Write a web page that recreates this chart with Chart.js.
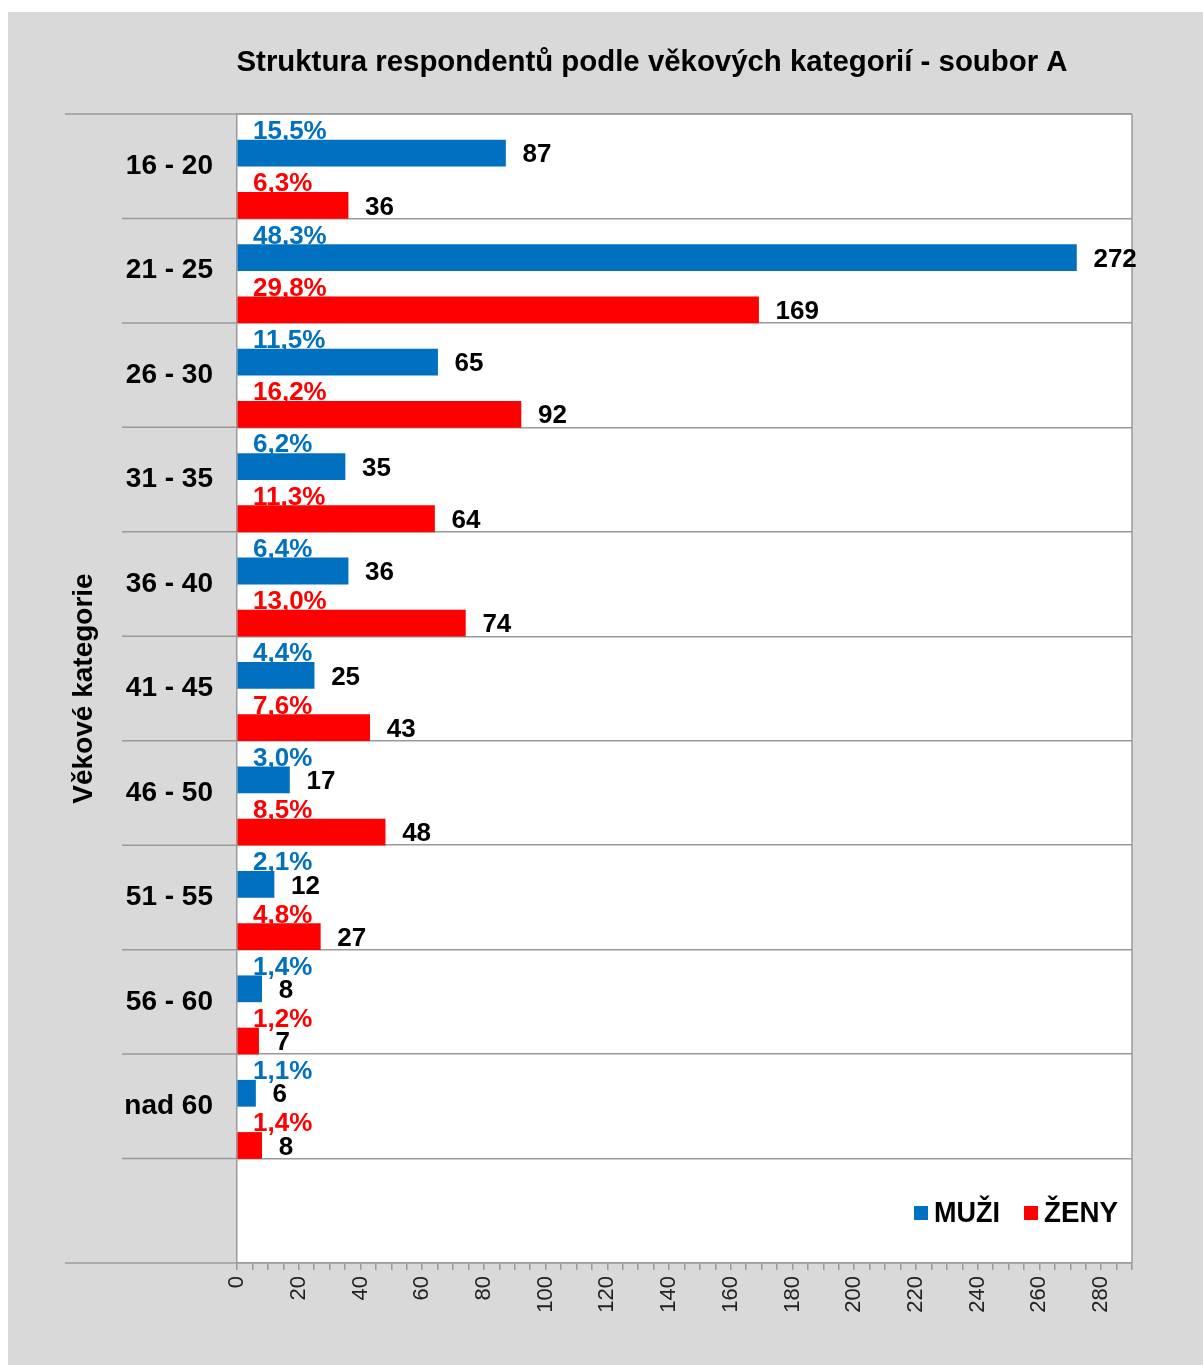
<!DOCTYPE html>
<html lang="cs">
<head>
<meta charset="utf-8">
<title>Struktura respondentů podle věkových kategorií - soubor A</title>
<script src="https://cdn.jsdelivr.net/npm/chart.js@4.4.1/dist/chart.umd.min.js"></script>
<style>
  html, body { margin: 0; padding: 0; background: #fff; }
  #wrap { width: 1203px; height: 1365px; }
</style>
</head>
<body>
<div id="wrap"><canvas id="ageChart" width="1203" height="1365"></canvas></div>
<script>
const chartTitle = "Struktura respondentů podle věkových kategorií - soubor A";
const categories = ["16 - 20", "21 - 25", "26 - 30", "31 - 35", "36 - 40", "41 - 45", "46 - 50", "51 - 55", "56 - 60", "nad 60", ""];
const muzi = [87, 272, 65, 35, 36, 25, 17, 12, 8, 6];
const zeny = [36, 169, 92, 64, 74, 43, 48, 27, 7, 8];
const muziPct = ["15,5%", "48,3%", "11,5%", "6,2%", "6,4%", "4,4%", "3,0%", "2,1%", "1,4%", "1,1%"];
const zenyPct = ["6,3%", "29,8%", "16,2%", "11,3%", "13,0%", "7,6%", "8,5%", "4,8%", "1,2%", "1,4%"];
const xMax = 290;

const FONT = "'Liberation Sans', Arial, sans-serif";
const BLUE = "#0070c0";
const RED = "#ff0000";
const LINE = "#9a9a9a";

// background, plot frame and the category separators that run into the label column
const framePlugin = {
  id: "frame",
  beforeDraw(chart) {
    const { ctx, chartArea: a, width, height } = chart;
    ctx.save();
    ctx.fillStyle = "#d9d9d9";
    ctx.fillRect(8, 12, width - 8, height - 12);
    ctx.fillStyle = "#fff";
    ctx.fillRect(a.left, a.top, a.right - a.left, a.bottom - a.top);
    ctx.restore();
  },
  afterDraw(chart) {
    const { ctx, chartArea: a } = chart;
    const n = categories.length;
    const step = (a.bottom - a.top) / n;
    ctx.save();
    ctx.strokeStyle = LINE;
    ctx.lineWidth = 1.5;
    ctx.beginPath();
    for (let i = 0; i <= n; i++) {
      const y = a.top + i * step;
      ctx.moveTo(i === 0 || i === n ? 65 : 122, y);
      ctx.lineTo(a.left, y);
    }
    ctx.moveTo(a.right, a.top);
    ctx.lineTo(a.right, a.bottom);
    ctx.moveTo(a.left, a.top);
    ctx.lineTo(a.right, a.top);
    ctx.stroke();
    ctx.restore();
  }
};

// condensed bold text, squeezed to the width it has in the original
function squeezedText(ctx, text, x, y, width, align) {
  const w = ctx.measureText(text).width;
  ctx.save();
  ctx.translate(x, y);
  ctx.scale(width / w, 1);
  ctx.textAlign = align;
  ctx.fillText(text, 0, 0);
  ctx.restore();
}

const titlePlugin = {
  id: "customTitle",
  afterDraw(chart) {
    const { ctx } = chart;
    ctx.save();
    ctx.font = "bold 30px " + FONT;
    ctx.fillStyle = "#000";
    ctx.textBaseline = "middle";
    squeezedText(ctx, chartTitle, 652, 63, 831, "center");
    ctx.restore();
  }
};

const labelPlugin = {
  id: "barLabels",
  afterDraw(chart) {
    const { ctx, chartArea: a } = chart;
    const sets = [
      { index: 1, pct: muziPct, color: BLUE },
      { index: 3, pct: zenyPct, color: RED }
    ];
    ctx.save();
    ctx.font = "bold 26px " + FONT;
    for (const s of sets) {
      const meta = chart.getDatasetMeta(s.index);
      meta.data.forEach((bar, i) => {
        const top = bar.y - bar.height / 2;
        ctx.textAlign = "left";
        ctx.textBaseline = "alphabetic";
        ctx.fillStyle = s.color;
        ctx.fillText(s.pct[i], a.left + 16, top - 1);
        ctx.fillStyle = "#000";
        ctx.textBaseline = "middle";
        ctx.fillText(String(chart.data.datasets[s.index].data[i]), bar.x + 17, bar.y + 2);
      });
    }
    ctx.restore();
  }
};

const legendPlugin = {
  id: "cornerLegend",
  afterDraw(chart) {
    const { ctx, chartArea: a } = chart;
    const items = [
      { text: "MUŽI", color: BLUE, width: 66 },
      { text: "ŽENY", color: RED, width: 74 }
    ];
    ctx.save();
    ctx.font = "bold 29px " + FONT;
    ctx.textBaseline = "middle";
    const y = 1213;
    let x = a.right - 14;
    for (let i = items.length - 1; i >= 0; i--) {
      const it = items[i];
      x -= it.width;
      ctx.fillStyle = "#000";
      squeezedText(ctx, it.text, x, y + 1, it.width, "left");
      x -= 20;
      ctx.fillStyle = it.color;
      ctx.fillRect(x, y - 7, 14, 14);
      x -= 24;
    }
    ctx.restore();
  }
};

new Chart(document.getElementById("ageChart"), {
  type: "bar",
  data: {
    labels: categories,
    datasets: [
      { label: "MUŽI %", data: muzi.map(() => null), backgroundColor: "transparent" },
      { label: "MUŽI", data: muzi, backgroundColor: BLUE },
      { label: "ŽENY %", data: zeny.map(() => null), backgroundColor: "transparent" },
      { label: "ŽENY", data: zeny, backgroundColor: RED }
    ]
  },
  options: {
    indexAxis: "y",
    responsive: false,
    animation: false,
    devicePixelRatio: 1,
    categoryPercentage: 1,
    barPercentage: 1,
    layout: { padding: { top: 114, right: 71, left: 0, bottom: 0 } },
    plugins: {
      legend: { display: false },
      title: { display: false },
      tooltip: { enabled: false }
    },
    scales: {
      x: {
        min: 0,
        max: xMax,
        afterFit: (scale) => { scale.height = 102; },
        grid: { drawOnChartArea: false, drawTicks: true, tickLength: 7, color: LINE, lineWidth: 1.5 },
        border: { display: true, color: LINE, width: 1.5 },
        ticks: {
          stepSize: 5,
          autoSkip: false,
          minRotation: 90,
          maxRotation: 90,
          padding: 6,
          color: "#222",
          font: { family: FONT, size: 22 },
          callback: (v) => (v % 20 === 0 ? v : "")
        }
      },
      y: {
        afterFit: (scale) => { scale.width = 237; },
        grid: { offset: true, drawTicks: false, color: LINE, lineWidth: 1.5 },
        border: { display: true, color: LINE, width: 1.5 },
        ticks: {
          padding: 24,
          color: "#000",
          font: { family: FONT, size: 28, weight: "bold" }
        },
        title: {
          display: true,
          text: "Věkové kategorie",
          color: "#000",
          font: { family: FONT, size: 28, weight: "bold" },
          padding: { top: 67, bottom: 0 }
        }
      }
    }
  },
  plugins: [framePlugin, titlePlugin, labelPlugin, legendPlugin]
});
</script>
</body>
</html>
